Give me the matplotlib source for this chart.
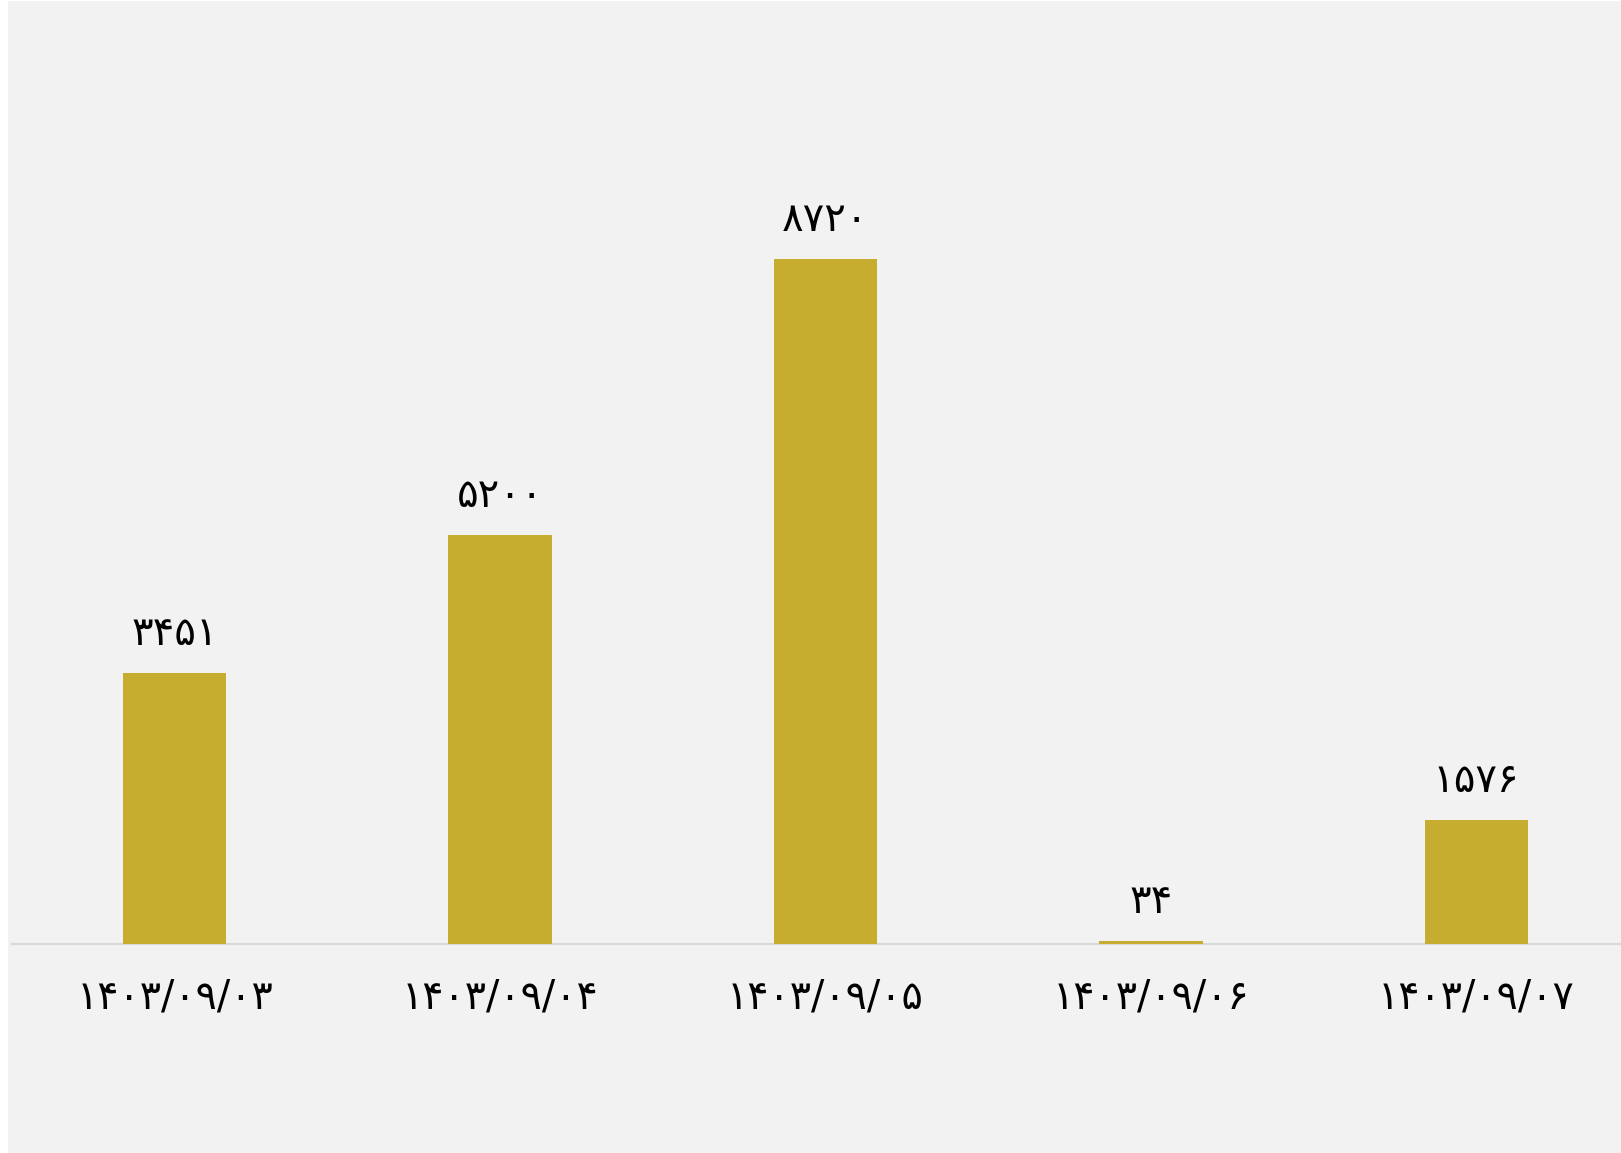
import matplotlib
matplotlib.use("Agg")
import matplotlib.pyplot as plt
from matplotlib.patches import Rectangle

categories = ["۱۴۰۳/۰۹/۰۳", "۱۴۰۳/۰۹/۰۴", "۱۴۰۳/۰۹/۰۵", "۱۴۰۳/۰۹/۰۶", "۱۴۰۳/۰۹/۰۷"]
values = [3451, 5200, 8720, 34, 1576]
value_labels = ["۳۴۵۱", "۵۲۰۰", "۸۷۲۰", "۳۴", "۱۵۷۶"]

W, H = 1621, 1153
fig = plt.figure(figsize=(W / 100, H / 100), dpi=100, facecolor="white")
fig.patches.append(Rectangle((8 / W, 0), 1 - 8 / W, 1 - 1 / H, transform=fig.transFigure,
                             facecolor="#f2f2f2", edgecolor="none", zorder=-10))

left = 12 / W
bottom = (H - 944) / H
width = 5 * 325.4 / W
height = 786 / H
ax = fig.add_axes([left, bottom, width, height])
ax.set_facecolor("none")
ax.set_zorder(5)

x = list(range(len(categories)))
ax.bar(x, values, width=0.318, color="#c6ac2f", zorder=2)
ax.set_xlim(-0.5, 4.5)
ax.set_ylim(0, 10000)

for s in ["top", "right", "left"]:
    ax.spines[s].set_visible(False)
ax.spines["bottom"].set_color("#d9d9d9")
ax.spines["bottom"].set_linewidth(1.6)
ax.spines["bottom"].set_zorder(1)
ax.set_yticks([])
ax.set_xticks(x)
ax.set_xticklabels(categories, fontsize=28.5, family="DejaVu Sans", color="black")
ax.tick_params(axis="x", length=0, pad=24)

for xi, v, lab in zip(x, values, value_labels):
    ax.annotate(lab, (xi, v), xytext=(0, 28), textcoords="offset points",
                ha="center", va="center", fontsize=29, family="DejaVu Sans", color="black")

fig.savefig("out.png", dpi=100, facecolor=fig.get_facecolor())
